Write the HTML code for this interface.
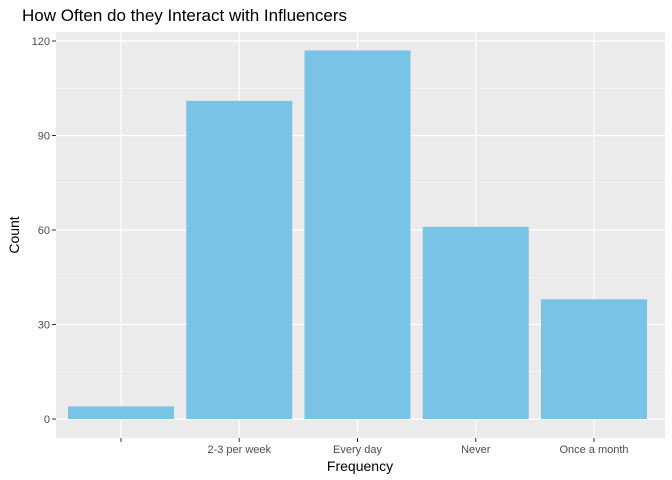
<!DOCTYPE html>
<html><head><meta charset="utf-8"><style>
body{margin:0;background:#fff;}
svg{display:block;font-family:"Liberation Sans",Arial,sans-serif;}
</style></head><body>
<svg id="chart" width="672" height="480">
<text x="22" y="21" font-size="17" fill="#000">How Often do they Interact with Influencers</text>
<rect x="56" y="32" width="609" height="406" fill="#ebebeb"/>
<g id="grid"></g><g id="bars"></g><g id="axes"></g>
<text x="360" y="471" font-size="14" text-anchor="middle" fill="#000">Frequency</text>
<text transform="translate(19,235) rotate(-90)" font-size="14" text-anchor="middle" fill="#000">Count</text>
</svg>
<script>
const categories = ["", "2-3 per week", "Every day", "Never", "Once a month"];
const counts = [4, 101, 117, 61, 38];
const yTicks = [0, 30, 60, 90, 120];
const NS = "http://www.w3.org/2000/svg";
const y = v => 419 - v * 3.15;
const x = i => 121 + i * 118.25;
const bw = 106;
function mk(tag, attrs, parent){const e=document.createElementNS(NS,tag);for(const k in attrs)e.setAttribute(k,attrs[k]);document.getElementById(parent).appendChild(e);return e;}
yTicks.forEach((t,i)=>{
  if(i<yTicks.length-1){
    const m=mk('line',{x1:56,x2:665,y1:y(t+15),y2:y(t+15),stroke:'#f7f7f7','stroke-width':0.6},'grid');
    
    
  }
  const g=mk('line',{x1:56,x2:665,y1:y(t),y2:y(t),stroke:'#fff','stroke-width':1.2},'grid');
  
  
  const tk=mk('line',{x1:52,x2:56,y1:y(t),y2:y(t),stroke:'#333','stroke-width':1},'axes');
  
  
  const l=mk('text',{x:50,y:y(t)+4,'font-size':11,'text-anchor':'end',fill:'#4d4d4d'},'axes');
  l.textContent=t;
  
  
});
categories.forEach((c,i)=>{
  const g=mk('line',{x1:x(i),x2:x(i),y1:32,y2:438,stroke:'#fff','stroke-width':1.2},'grid');
  
  
  const b=mk('rect',{x:x(i)-bw/2,y:y(counts[i]),width:bw,height:y(0)-y(counts[i]),fill:'#78c3e6'},'bars');
  
  
  const tk=mk('line',{x1:x(i),x2:x(i),y1:438,y2:442,stroke:'#333','stroke-width':1},'axes');
  
  
  const l=mk('text',{x:x(i),y:453,'font-size':11,'text-anchor':'middle',fill:'#4d4d4d'},'axes');
  l.textContent=c;
  
  
});
</script>
</body></html>
